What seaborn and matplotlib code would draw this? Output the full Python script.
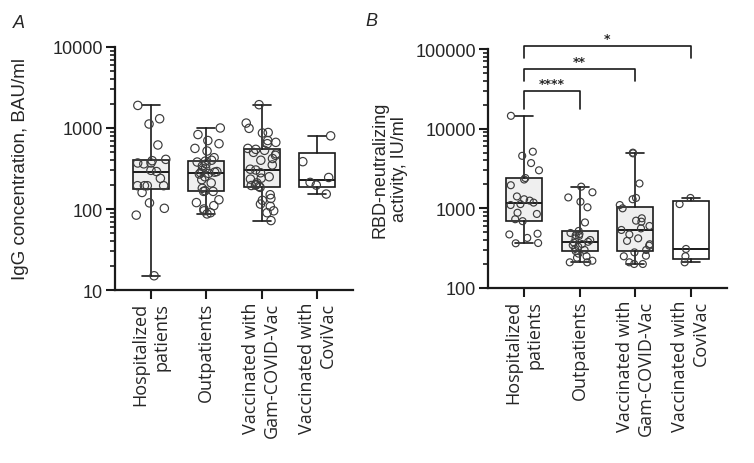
import numpy as np
import pandas as pd
import matplotlib
matplotlib.use('Agg')
import matplotlib.pyplot as plt
import matplotlib.ticker as mticker
import seaborn as sns

# ── data ──────────────────────────────────────────────────────────────────────
categories = ['Hospitalized', 'Outpatients', 'Gam-COVID-Vac', 'CoviVac']
tick_labels = ['Hospitalized\npatients', 'Outpatients',
               'Vaccinated with\nGam-COVID-Vac', 'Vaccinated with\nCoviVac']

# A: IgG concentration, BAU/ml
igg_hosp = [1900, 1300, 1120, 617, 410, 395, 370, 370, 361, 300, 290, 239,
            194, 194, 194, 194, 160, 119, 102, 84, 15]
igg_outp = [1000, 830, 700, 640, 560, 520, 430, 400, 390, 380, 360, 340, 320,
            300, 290, 285, 280, 275, 270, 250, 230, 210, 180, 168, 165, 165,
            130, 120, 110, 100, 95, 90, 87]
igg_gam = [1940, 1150, 990, 880, 867, 700, 665, 640, 560, 545, 530, 500, 480,
           460, 420, 400, 350, 310, 303, 280, 250, 240, 234, 210, 200, 197,
           195, 190, 185, 150, 135, 128, 115, 108, 95, 90, 72]
igg_covi = [800, 384, 245, 213, 197, 153]

# B: RBD-neutralizing activity, IU/ml
rbd_hosp = [14500, 5140, 4560, 3700, 3000, 2400, 2300, 1950, 1410, 1300, 1250,
            1180, 1130, 1100, 880, 850, 730, 690, 480, 470, 425, 367, 364]
rbd_outp = [1870, 1590, 1370, 1210, 1030, 665, 520, 490, 475, 460, 450, 420,
            400, 380, 370, 356, 345, 330, 310, 300, 290, 270, 250, 240, 220,
            210, 210]
rbd_gam = [5000, 4900, 2050, 1350, 1300, 1100, 1000, 750, 700, 680, 600, 560,
           535, 470, 420, 390, 354, 340, 300, 280, 254, 250, 210, 200, 200]
rbd_covi = [1350, 1130, 309, 250, 210]

# significance: (group a, group b, label)
sig_pairs = [(0, 1, '****'), (0, 2, '**'), (0, 3, '*')]

# ── style ─────────────────────────────────────────────────────────────────────
sns.set_style('ticks')
plt.rcParams['font.family'] = ['Liberation Sans', 'DejaVu Sans']
INK = '#1a1a1a'
BOX_FILL = ['#efefef', '#efefef', '#efefef', 'white']


def box_stats(vals):
    # GraphPad-style quartiles, whiskers min to max
    v = np.asarray(vals, float)
    q1, med, q3 = np.percentile(v, [25, 50, 75], method='weibull')
    return dict(med=med, q1=q1, q3=q3, whislo=v.min(), whishi=v.max(), fliers=[])


def draw_panel(ax, groups, ylim, msize):
    df = pd.DataFrame({
        'group': np.repeat(categories, [len(g) for g in groups]),
        'value': np.concatenate(groups),
    })
    np.random.seed(7)
    sns.stripplot(data=df, x='group', y='value', order=categories, jitter=0.28,
                  size=msize, facecolor='none', edgecolor='#3c3c3c',
                  linewidth=0.85, ax=ax, zorder=3)
    lp = dict(color=INK, linewidth=1.2)
    bp = ax.bxp([box_stats(g) for g in groups], positions=range(4), widths=0.65,
                capwidths=0.33, patch_artist=True, showfliers=False,
                manage_ticks=False,
                boxprops=dict(edgecolor=INK, linewidth=1.2),
                medianprops=dict(color=INK, linewidth=1.4),
                whiskerprops=lp, capprops=lp, zorder=2)
    for patch, fc in zip(bp['boxes'], BOX_FILL):
        patch.set_facecolor(fc)

    ax.set_yscale('log')
    ax.set_ylim(*ylim)
    ax.set_xlim(-0.65, 3.65)
    ax.yaxis.set_major_locator(mticker.LogLocator(base=10))
    ax.yaxis.set_major_formatter(mticker.FuncFormatter(lambda v, p: f'{v:.0f}'))
    ax.yaxis.set_minor_locator(mticker.LogLocator(base=10, subs=np.arange(2, 10)))
    ax.yaxis.set_minor_formatter(mticker.NullFormatter())
    ax.set_xticks(range(4))
    ax.set_xticklabels(tick_labels, rotation=90, ha='center', va='top',
                       multialignment='right', family='Open Sans', fontsize=12.5)
    ax.set_xlabel('')
    ax.tick_params(axis='both', which='major', length=6.5, width=1.5,
                   color=INK, labelsize=13, pad=2)
    ax.tick_params(axis='y', which='minor', length=3.5, width=1.2, color=INK)
    sns.despine(ax=ax)
    for s in ('left', 'bottom'):
        ax.spines[s].set_linewidth(1.6)
        ax.spines[s].set_color(INK)


fig = plt.figure(figsize=(7.54, 4.64), dpi=100)
axA = fig.add_axes([0.1525, 0.3728, 0.3157, 0.5238])
axB = fig.add_axes([0.6472, 0.3772, 0.3170, 0.5150])

draw_panel(axA, [igg_hosp, igg_outp, igg_gam, igg_covi], (10, 10000), 6)
draw_panel(axB, [rbd_hosp, rbd_outp, rbd_gam, rbd_covi], (100, 100000), 5)

axA.set_ylabel('IgG concentration, BAU/ml', fontsize=13.5)
axA.yaxis.set_label_coords(-0.36, 0.5)
axB.set_ylabel('RBD-neutralizing\nactivity, IU/ml', fontsize=13)
axB.yaxis.set_label_coords(-0.335, 0.5)

# significance brackets above panel B
line_y = [29900, 56000, 107900]
foot_y = [17600, 39900, 76900]
for (a, b, lab), ly, fy in zip(sig_pairs, line_y, foot_y):
    axB.plot([a, a, b, b], [fy, ly, ly, fy], color=INK, lw=1.2, clip_on=False)
    axB.annotate(lab, xy=((a + b) / 2, ly), xytext=(0, 3),
                 textcoords='offset points', ha='center', va='baseline',
                 fontsize=9, fontweight='bold', family='DejaVu Sans',
                 annotation_clip=False)

fig.text(19 / 754, 1 - 23 / 464, 'A', fontsize=13, style='italic', ha='center', va='center')
fig.text(371 / 754, 1 - 22 / 464, 'B', fontsize=13, style='italic', ha='center', va='center')

fig.savefig('out.png', dpi=100)
